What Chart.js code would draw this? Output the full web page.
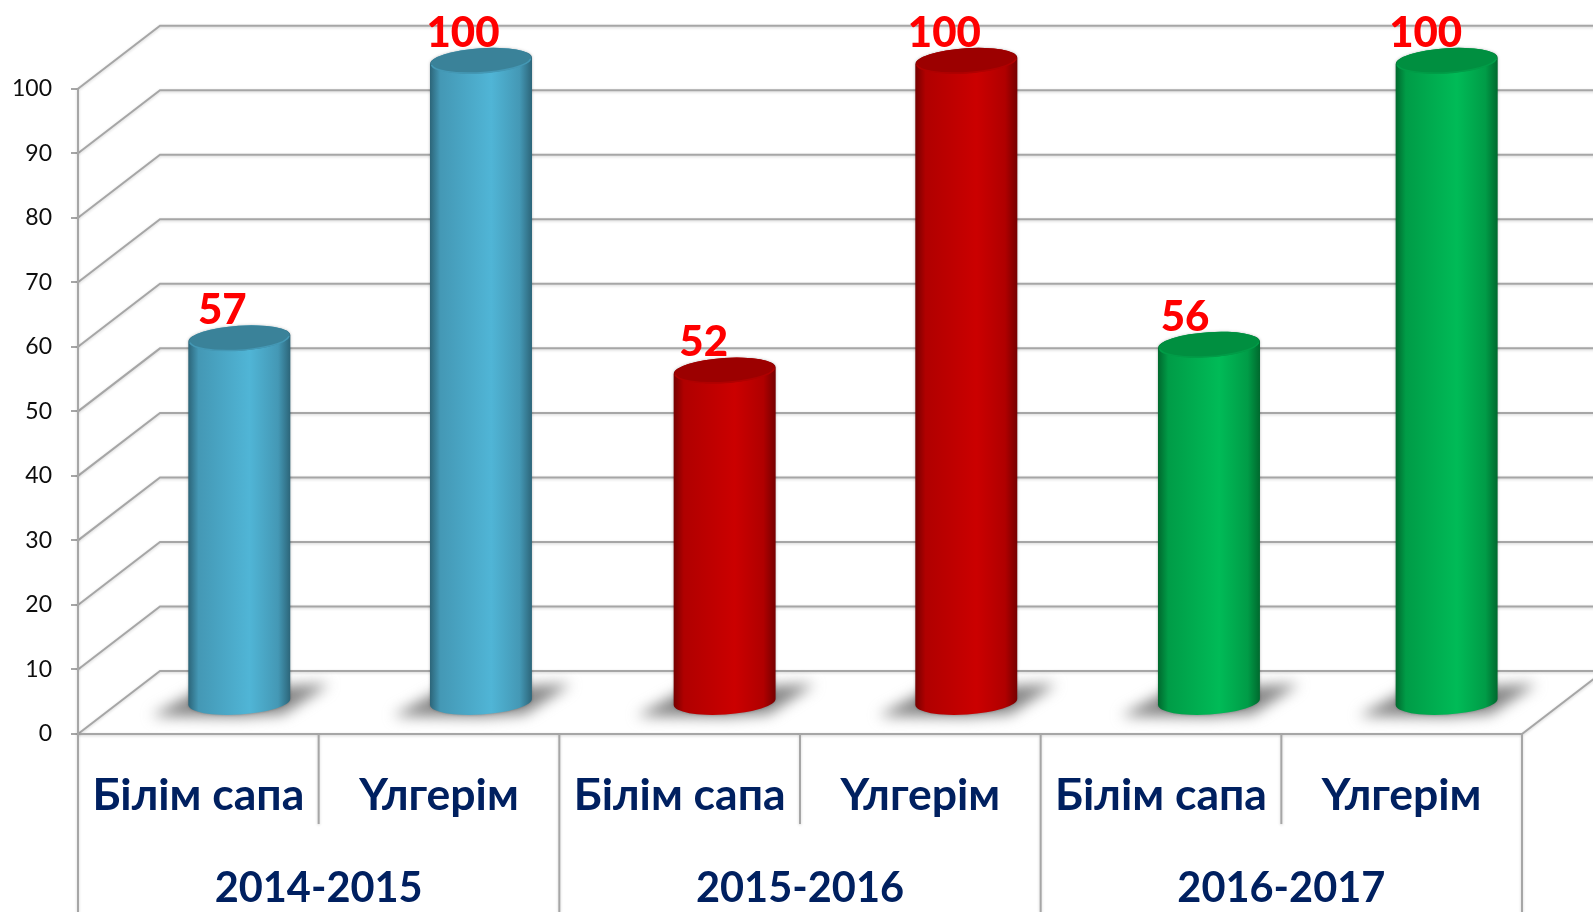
<!DOCTYPE html>
<html lang="en">
<head>
    <meta charset="UTF-8">
    <title>Білім сапа және үлгерім</title>
    <script src="https://cdnjs.cloudflare.com/ajax/libs/Chart.js/4.4.1/chart.umd.min.js"></script>
    <style>
        * { margin: 0; padding: 0; }
        html, body { background: #fff; overflow: hidden; }
        canvas { display: block; }
    </style>
</head>
<body>
    <canvas id="chart" width="1593" height="912"></canvas>
    <script>
        // Data
        const seasons = ['2014-2015', '2015-2016', '2016-2017'];
        const measures = ['Білім сапа', 'Үлгерім', 'Білім сапа', 'Үлгерім', 'Білім сапа', 'Үлгерім'];
        const values = [57, 100, 52, 100, 56, 100];
        const yTicks = [0, 10, 20, 30, 40, 50, 60, 70, 80, 90, 100];

        // Cylinder colours: edge, mid, centre, cap
        const blue = ['#2c6579', '#4498b5', '#50b5d6', '#3a8299'];
        const red = ['#760000', '#b00000', '#cb0000', '#9c0000'];
        const green = ['#00692e', '#009c47', '#00bb57', '#008f40'];
        const barColors = [blue, blue, red, red, green, green];

        const FONT = 'Lato, "Open Sans", sans-serif';
        const GRID = '#a6a6a6';
        const DEPTH_X = 82, DEPTH_Y = 63;   // back wall offset
        const BAR_DX = 41, BAR_DY = 30;     // bars stand mid floor
        const TILT = -0.065;
        const barNudge = [0, 1, 4, 5, 7, 4];   // the original's spacing is slightly uneven

        function softLine(ctx) {
            ctx.strokeStyle = GRID;
            ctx.lineWidth = 2;
            ctx.shadowColor = 'rgba(0,0,0,0.18)';
            ctx.shadowBlur = 3;
            ctx.shadowOffsetY = 1;
        }

        // 3D walls and floor, from the value scale
        const walls = {
            id: 'walls',
            beforeDatasetsDraw(chart) {
                const { ctx, chartArea, scales } = chart;
                const left = chartArea.left, right = chartArea.right;
                ctx.save();
                softLine(ctx);
                yTicks.forEach(t => {
                    const y = scales.y.getPixelForValue(t);
                    ctx.beginPath();
                    ctx.moveTo(left, y);
                    ctx.lineTo(left + DEPTH_X, y - DEPTH_Y);
                    ctx.lineTo(right + DEPTH_X, y - DEPTH_Y);
                    ctx.stroke();
                });
                const y0 = scales.y.getPixelForValue(0);
                ctx.beginPath();
                ctx.moveTo(left, y0);
                ctx.lineTo(right, y0);
                ctx.lineTo(right + DEPTH_X, y0 - DEPTH_Y);
                ctx.stroke();

                // category dividers below the floor
                const h = chart.height;
                const step = (right - left) / measures.length;
                for (let i = 0; i <= measures.length; i++) {
                    const x = scales.x.getPixelForValue(0) - step / 2 + i * step;
                    ctx.beginPath();
                    ctx.moveTo(x, i === 0 ? chartArea.top : y0);
                    ctx.lineTo(x, i % 2 === 0 ? h : 824);
                    ctx.stroke();
                }
                ctx.restore();
            }
        };

        // Cylinders with floor shadow and value labels, from the bar elements
        const cylinders = {
            id: 'cylinders',
            afterDatasetsDraw(chart) {
                const { ctx } = chart;
                const bars = chart.getDatasetMeta(0).data;
                bars.forEach((bar, i) => {
                    const c = barColors[i];
                    const cx = bar.x + BAR_DX + barNudge[i];
                    const topY = bar.y - BAR_DY + 2;
                    const baseY = bar.base - BAR_DY - 1;
                    const rx = bar.width / 2, ry = 12.5;
                    const lift = rx * Math.sin(TILT);

                    // floor shadow
                    ctx.save();
                    ctx.filter = 'blur(7px)';
                    ctx.fillStyle = '#858585';
                    ctx.beginPath();
                    ctx.moveTo(cx - 88, baseY + 14);
                    ctx.lineTo(cx - 40, baseY - 12);
                    ctx.lineTo(cx + 90, baseY - 18);
                    ctx.lineTo(cx + 44, baseY + 12);
                    ctx.lineTo(cx, baseY + 15);
                    ctx.closePath();
                    ctx.fill();
                    ctx.restore();

                    // body
                    const g = ctx.createLinearGradient(cx - rx, 0, cx + rx, 0);
                    g.addColorStop(0, c[0]);
                    g.addColorStop(0.1, c[1]);
                    g.addColorStop(0.6, c[2]);
                    g.addColorStop(0.88, c[1]);
                    g.addColorStop(1, c[0]);
                    ctx.save();
                    ctx.shadowColor = 'rgba(0,0,0,0.25)';
                    ctx.shadowBlur = 3;
                    ctx.fillStyle = g;
                    ctx.beginPath();
                    ctx.moveTo(cx - rx, topY - lift);
                    ctx.lineTo(cx - rx, baseY - lift);
                    ctx.ellipse(cx, baseY, rx, ry, TILT, Math.PI, 0, true);
                    ctx.lineTo(cx + rx, topY + lift);
                    ctx.ellipse(cx, topY, rx, ry, TILT, 0, Math.PI, true);
                    ctx.closePath();
                    ctx.fill();
                    ctx.restore();

                    // cap
                    ctx.fillStyle = c[3];
                    ctx.beginPath();
                    ctx.ellipse(cx, topY, rx - 0.5, ry, TILT, 0, Math.PI * 2);
                    ctx.fill();
                    ctx.strokeStyle = c[1];
                    ctx.lineWidth = 1.5;
                    ctx.beginPath();
                    ctx.ellipse(cx, topY, rx - 1, ry - 0.5, TILT, 0.1, Math.PI - 0.1);
                    ctx.stroke();

                    // value label
                    ctx.fillStyle = '#ff0000';
                    ctx.font = '900 42px ' + FONT;
                    ctx.textAlign = 'center';
                    ctx.textBaseline = 'alphabetic';
                    ctx.fillText(String(values[i]), bar.x + BAR_DX - 17, bar.y - BAR_DY - 12);
                });
            }
        };

        new Chart(document.getElementById('chart'), {
            type: 'bar',
            data: {
                labels: measures,
                datasets: [{
                    data: values,
                    backgroundColor: 'rgba(0,0,0,0)',
                    categoryPercentage: 1,
                    barPercentage: 0.424
                }]
            },
            plugins: [walls, cylinders],
            options: {
                responsive: false,
                animation: false,
                layout: { padding: { top: 88.7, right: 71, left: 0, bottom: 0 } },
                plugins: { legend: { display: false }, tooltip: { enabled: false } },
                scales: {
                    y: {
                        min: 0,
                        max: 100,
                        afterFit(s) { s.width = 78; },
                        afterBuildTicks(s) { s.ticks = yTicks.map(v => ({ value: v })); },
                        border: { color: GRID, width: 2 },
                        grid: { drawOnChartArea: false, color: GRID, lineWidth: 2, tickLength: 7 },
                        ticks: { color: '#0d0d0d', font: { family: FONT, size: 23 }, padding: 19 }
                    },
                    x: {
                        position: 'bottom',
                        afterFit(s) { s.height = 91; },
                        border: { display: false },
                        grid: { display: false },
                        ticks: {
                            color: '#002060',
                            font: { family: FONT, size: 44.5, weight: 'bold' },
                            padding: 27,
                            maxRotation: 0,
                            autoSkip: false
                        }
                    },
                    groups: {
                        type: 'category',
                        labels: seasons,
                        position: 'bottom',
                        afterFit(s) { s.height = 87; },
                        border: { display: false },
                        grid: { display: false },
                        ticks: {
                            color: '#002060',
                            font: { family: FONT, size: 41.5, weight: 'bold' },
                            padding: 31,
                            maxRotation: 0
                        }
                    }
                }
            }
        });
    </script>
</body>
</html>
